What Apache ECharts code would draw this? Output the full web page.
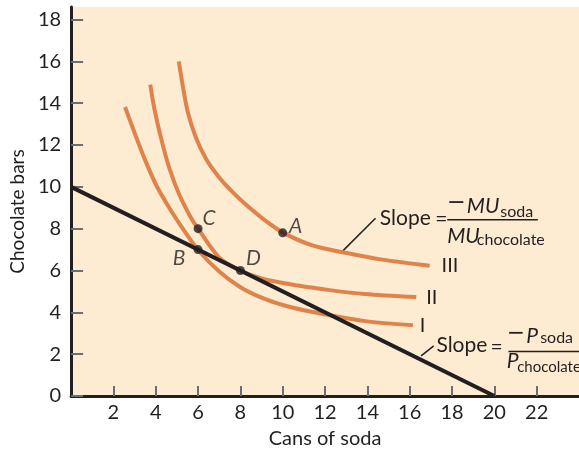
<!DOCTYPE html>
<html>
<head>
<meta charset="utf-8">
<script src="https://cdn.jsdelivr.net/npm/echarts@6/dist/echarts.min.js"></script>
<style>
  html, body { margin: 0; padding: 0; background: #ffffff; }
  #chart { width: 579px; height: 454px; }
</style>
</head>
<body>
<div id="chart"></div>
<script>
// Tick values on each axis
const sodaTicks = [2, 4, 6, 8, 10, 12, 14, 16, 18, 20, 22];
const chocTicks = [0, 2, 4, 6, 8, 10, 12, 14, 16, 18];

// Indifference curves: [cans of soda, chocolate bars]
const curveI = [
  [2.55, 13.82], [2.99, 12.61], [3.47, 11.35], [4.02, 10.09], [4.65, 8.98],
  [5.36, 7.88], [6.0, 6.98], [7.0, 5.95], [8.0, 5.2], [9.0, 4.7],
  [10.0, 4.35], [11.0, 4.1], [12.3, 3.85], [13.9, 3.58], [16.15, 3.38]
];
const curveII = [
  [3.74, 14.89], [3.94, 13.71], [4.26, 12.29], [4.65, 10.87], [5.12, 9.61],
  [5.67, 8.51], [6.0, 8.0], [7.0, 6.62], [8.0, 6.0], [9.0, 5.62],
  [10.72, 5.28], [12.3, 5.05], [13.87, 4.88], [16.31, 4.73]
];
const curveIII = [
  [5.09, 16.0], [5.28, 14.81], [5.52, 13.55], [5.9, 12.35], [6.4, 11.3],
  [7.0, 10.45], [7.6, 9.78], [8.2, 9.2], [9.1, 8.45], [10.04, 7.8],
  [11.4, 7.2], [12.9, 6.86], [14.7, 6.52], [16.94, 6.23]
];
const curveNames = ['I', 'II', 'III'];

// Budget line: 10 chocolate bars or 20 cans of soda
const budgetSoda = [0, 20];
const budgetChoc = [10, 0];

// Labelled consumption points
const pointNames = ['A', 'B', 'C', 'D'];
const pointSoda = [10, 6, 6, 8];
const pointChoc = [7.8, 7, 8, 6];

// ---- styling ----
const FONT = 'Lato';
const INK = '#231f20';
const ORANGE = '#e0834b';
const TICK = '#6d6e71';
const PLOT_BG = '#fdecd2';

const pointLabelOffset = { A: [13, -7], B: [-19, 9], C: [11, -10], D: [13, -12] };
const endLabelGap = { I: 7, II: 10, III: 12 };

const chart = echarts.init(document.getElementById('chart'), null, { renderer: 'canvas' });

function curveSeries(name, data) {
  return {
    name: name,
    type: 'line',
    data: data,
    smooth: 0.3,
    symbol: 'none',
    z: 2,
    lineStyle: { color: ORANGE, width: 4, cap: 'butt' },
    endLabel: {
      show: true,
      formatter: name,
      distance: endLabelGap[name],
      color: INK,
      fontFamily: FONT,
      fontSize: 20
    },
    silent: true
  };
}

const option = {
  animation: false,
  backgroundColor: '#ffffff',
  grid: {
    left: 70, right: 0, top: 7, bottom: 54,
    show: true, backgroundColor: PLOT_BG, borderWidth: 0
  },
  xAxis: {
    type: 'value',
    min: 0, max: 24,
    name: 'Cans of soda',
    nameLocation: 'middle',
    nameGap: 33,
    nameTextStyle: { color: INK, fontFamily: FONT, fontSize: 20 },
    axisLine: { show: true, lineStyle: { color: INK, width: 3 } },
    axisTick: {
      show: true, inside: true, length: 10, customValues: sodaTicks,
      lineStyle: { color: TICK, width: 2 }
    },
    axisLabel: {
      show: true, customValues: sodaTicks, margin: 7,
      color: INK, fontFamily: FONT, fontSize: 20
    },
    splitLine: { show: false }
  },
  yAxis: {
    type: 'value',
    min: 0, max: 18.6,
    name: 'Chocolate bars',
    nameLocation: 'middle',
    nameGap: 42,
    nameRotate: 90,
    nameTextStyle: { color: INK, fontFamily: FONT, fontSize: 19, padding: [0, 20, 0, 0] },
    axisLine: { show: true, lineStyle: { color: INK, width: 3 } },
    axisTick: {
      show: true, inside: true, length: 12, customValues: chocTicks,
      lineStyle: { color: TICK, width: 2 }
    },
    axisLabel: {
      show: true, customValues: chocTicks, margin: 10,
      color: INK, fontFamily: FONT, fontSize: 20
    },
    splitLine: { show: false }
  },
  series: [
    curveSeries(curveNames[0], curveI),
    curveSeries(curveNames[1], curveII),
    curveSeries(curveNames[2], curveIII),
    {
      name: 'Budget line',
      type: 'line',
      data: budgetSoda.map((s, i) => [s, budgetChoc[i]]),
      symbol: 'none',
      z: 3,
      lineStyle: { color: INK, width: 4, cap: 'butt' },
      silent: true
    },
    {
      name: 'Points',
      type: 'scatter',
      z: 4,
      symbol: 'circle',
      symbolSize: 9,
      itemStyle: { color: INK },
      data: pointNames.map((n, i) => ({
        name: n,
        value: [pointSoda[i], pointChoc[i]],
        label: { offset: pointLabelOffset[n] }
      })),
      label: {
        show: true,
        position: 'inside',
        formatter: '{b}',
        color: INK,
        fontFamily: FONT,
        fontStyle: 'italic',
        fontSize: 21
      },
      silent: true
    }
  ]
};

chart.setOption(option);

// ---- slope annotations, laid out around the point where each leader line starts ----
function txt(ax, ay, dx, dy, text, size, italic) {
  return {
    type: 'text',
    x: ax + dx, y: ay + dy,
    silent: true,
    style: {
      text: text,
      fill: INK,
      font: (italic ? 'italic ' : '') + size + 'px ' + FONT,
      textAlign: 'left',
      textVerticalAlign: 'middle',
      verticalAlign: 'middle'
    }
  };
}
function seg(ax, ay, x1, y1, x2, y2, w) {
  return {
    type: 'line',
    silent: true,
    shape: { x1: ax + x1, y1: ay + y1, x2: ax + x2, y2: ay + y2 },
    style: { stroke: INK, lineWidth: w }
  };
}

// leader of the curve-slope note starts on curve III, the price note on the budget line
const [a1x, a1y] = chart.convertToPixel({ gridIndex: 0 }, [12.84, 6.94]);
const [b2x, b2y] = chart.convertToPixel({ gridIndex: 0 }, [16.54, 1.73]);
const a2x = b2x, a2y = b2y - 4;

const graphics = [
  // Slope = −MU_soda / MU_chocolate
  seg(a1x, a1y, 0, 0, 32.7, -32.6, 1.5),
  txt(a1x, a1y, 37, -33, 'Slope', 21, false),
  txt(a1x, a1y, 92.5, -32, '=', 21, false),
  seg(a1x, a1y, 106.5, -48.8, 120.5, -48.8, 1.8),
  txt(a1x, a1y, 124, -45, 'MU', 21, true),
  txt(a1x, a1y, 157.5, -39.5, 'soda', 16, false),
  seg(a1x, a1y, 104.4, -31, 195, -31, 1.5),
  txt(a1x, a1y, 104.4, -14.5, 'MU', 21, true),
  txt(a1x, a1y, 134, -11.5, 'chocolate', 16, false),

  // Slope = −P_soda / P_chocolate
  seg(a2x, a2y, 0, 0, 12.6, -10, 1.5),
  txt(a2x, a2y, 15.3, -10.5, 'Slope', 21, false),
  txt(a2x, a2y, 69.3, -9, '=', 21, false),
  seg(a2x, a2y, 88, -23, 101.5, -23, 1.8),
  txt(a2x, a2y, 105, -19.5, 'P', 21, true),
  txt(a2x, a2y, 119, -17.5, 'soda', 16, false),
  seg(a2x, a2y, 87.3, -4.3, 158.3, -4.3, 1.5),
  txt(a2x, a2y, 85.5, 5.5, 'P', 21, true),
  txt(a2x, a2y, 96, 11, 'chocolate', 15, false)
];

chart.setOption({ graphic: graphics });
</script>
</body>
</html>
